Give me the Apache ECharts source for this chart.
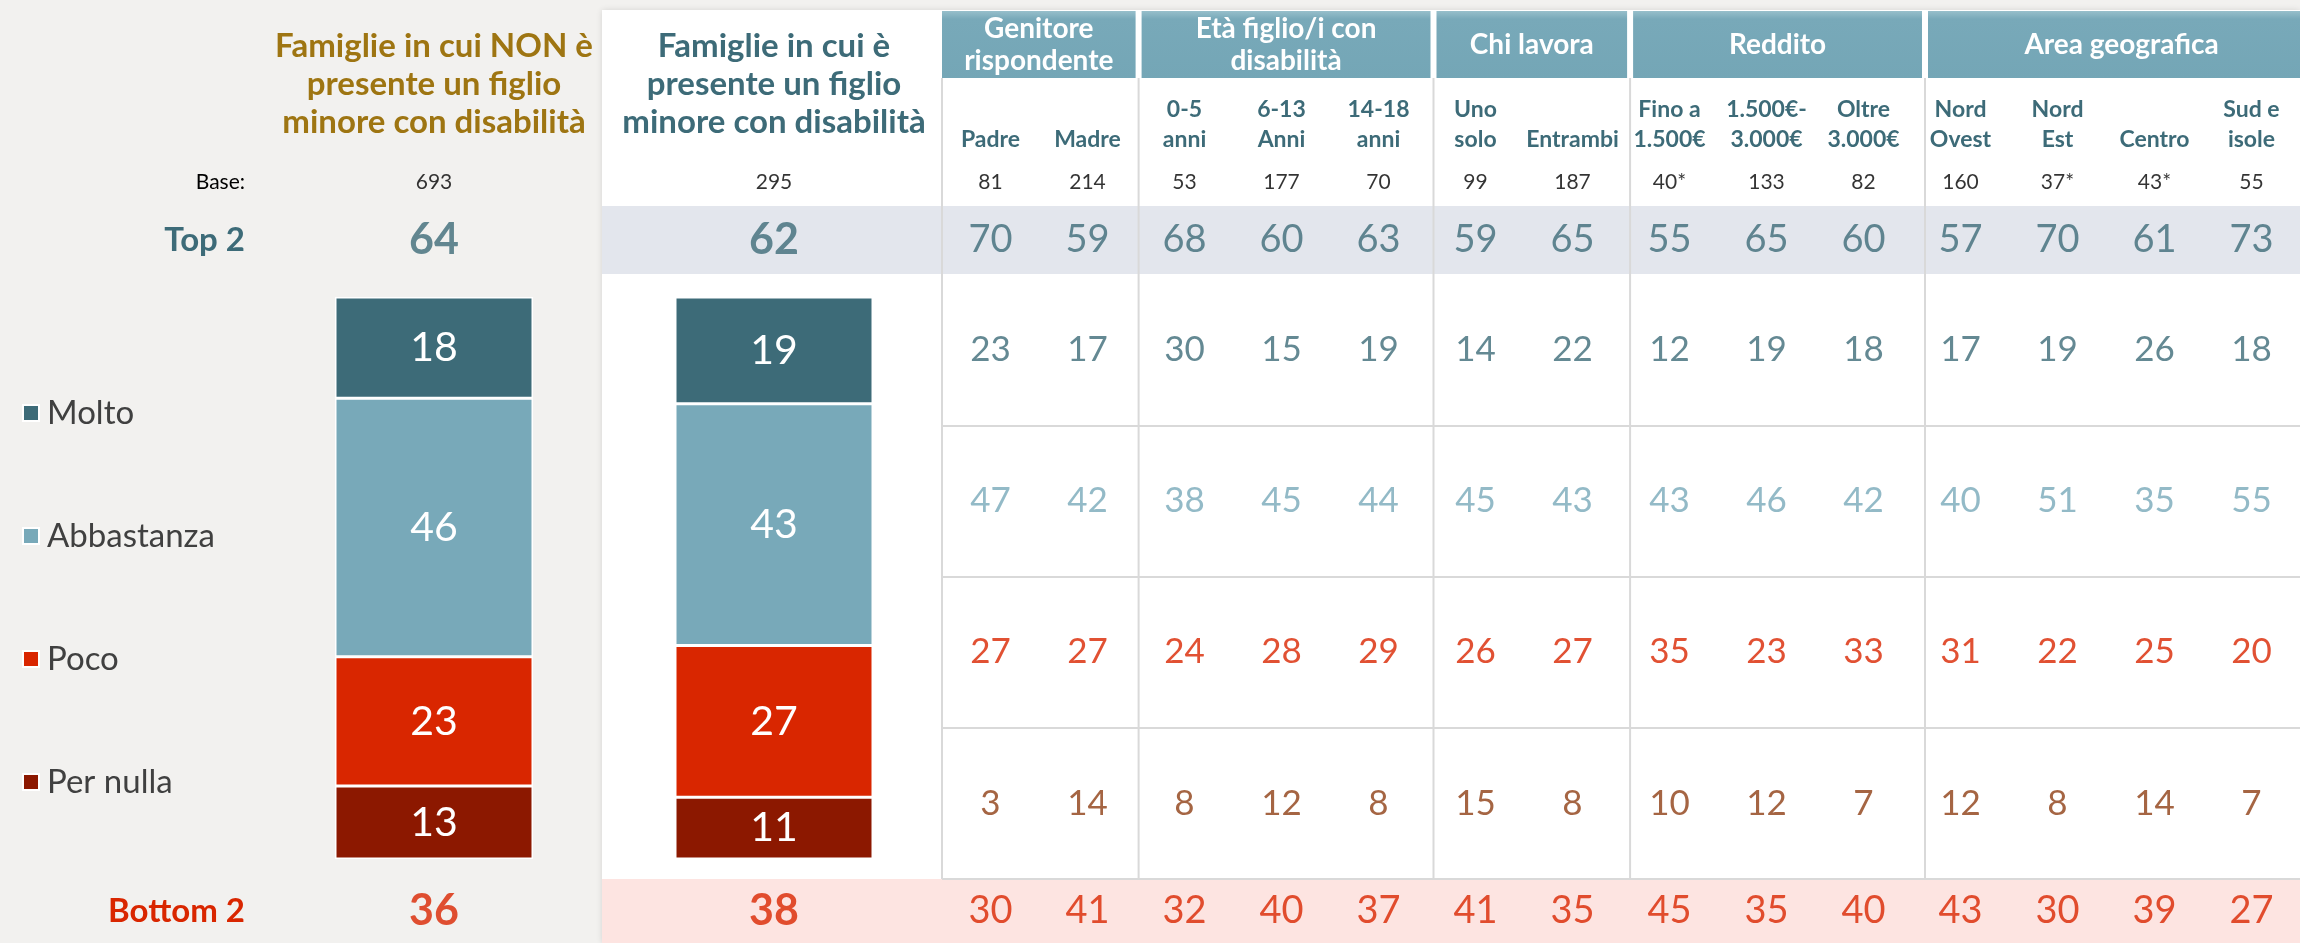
<!DOCTYPE html>
<html>
<head>
<meta charset="utf-8">
<script src="https://cdn.jsdelivr.net/npm/echarts@6/dist/echarts.min.js"></script>
<style>
  html, body { margin: 0; padding: 0; background: #f2f1ef; }
  #chart { width: 2300px; height: 943px; }
</style>
</head>
<body>
<div id="chart"></div>
<script>
// left panel: the two family types
const families = [
  'Famiglie in cui NON è\npresente un figlio\nminore con disabilità',
  'Famiglie in cui è\npresente un figlio\nminore con disabilità'
]
const baseFam = [693, 295]
const top2Fam = [64, 62]
const bottom2Fam = [36, 38]
const levels = ['Molto', 'Abbastanza', 'Poco', 'Per nulla']
const moltoFam = [18, 19]
const abbastanzaFam = [46, 43]
const pocoFam = [23, 27]
const perNullaFam = [13, 11]

// table: sub groups of the families with a disabled child
const groups = ['Genitore\nrispondente', 'Età figlio/i con\ndisabilità', 'Chi lavora', 'Reddito', 'Area geografica']
const groupSizes = [2, 3, 2, 3, 4]
const subgroups = ['Padre', 'Madre', '0-5\nanni', '6-13\nAnni', '14-18\nanni', 'Uno\nsolo', 'Entrambi',
  'Fino a\n1.500€', '1.500€-\n3.000€', 'Oltre\n3.000€', 'Nord\nOvest', 'Nord\nEst', 'Centro', 'Sud e\nisole']
const baseSub = ['81', '214', '53', '177', '70', '99', '187', '40*', '133', '82', '160', '37*', '43*', '55']
const top2Sub = [70, 59, 68, 60, 63, 59, 65, 55, 65, 60, 57, 70, 61, 73]
const moltoSub = [23, 17, 30, 15, 19, 14, 22, 12, 19, 18, 17, 19, 26, 18]
const abbastanzaSub = [47, 42, 38, 45, 44, 45, 43, 43, 46, 42, 40, 51, 35, 55]
const pocoSub = [27, 27, 24, 28, 29, 26, 27, 35, 23, 33, 31, 22, 25, 20]
const perNullaSub = [3, 14, 8, 12, 8, 15, 8, 10, 12, 7, 12, 8, 14, 7]
const bottom2Sub = [30, 41, 32, 40, 37, 41, 35, 45, 35, 40, 43, 30, 39, 27]

const FONT = 'Lato, "Noto Sans", sans-serif'
const TEAL = '#3d6b78'
const LIGHT = '#78a9b9'
const RED = '#d92600'
const DARK_RED = '#8c1800'
const BROWN = '#8e3f14'
const GOLD = '#9e7512'
const LINE = '#d9d9d9'

const FAM_LEFT = 264
const FAM_W = 680
const TAB_LEFT = 942
const COL_W = 98.3
const TAB_W = COL_W * subgroups.length

let chart = echarts.init(document.getElementById('chart'))

function hiddenCat(data, grid) {
  return { type: 'category', data: data, gridIndex: grid, show: false }
}

function textSeries(name, grid, values, color, size, weight) {
  return {
    name: name,
    type: 'scatter',
    xAxisIndex: grid,
    yAxisIndex: grid,
    symbolSize: 0,
    silent: true,
    data: values.map((v, i) => ({ value: [i, 0], name: String(v) })),
    label: {
      show: true, position: 'inside', formatter: '{b}',
      color: color, fontSize: size, fontWeight: weight, fontFamily: FONT
    }
  }
}

function rowSeries(name, values, row, color) {
  return {
    name: name + ' ',
    type: 'scatter',
    xAxisIndex: 6,
    yAxisIndex: 6,
    symbolSize: 0,
    silent: true,
    data: values.map((v, i) => ({ value: [i, row], name: String(v) })),
    label: {
      show: true, position: 'inside', formatter: '{b}',
      color: color, fontSize: 35, fontWeight: 'normal', fontFamily: FONT
    }
  }
}

function barSeries(name, values, color) {
  return {
    name: name,
    type: 'bar',
    stack: 'tot',
    xAxisIndex: 2,
    yAxisIndex: 2,
    barWidth: 198,
    data: values,
    itemStyle: { color: color, borderColor: '#fff', borderWidth: 1.5 },
    label: {
      show: true, position: 'inside', color: '#fff',
      fontSize: 41, fontWeight: 'normal', fontFamily: FONT
    }
  }
}

// header boxes and group separators
let graphics = [
  { type: 'rect', z: -10, shape: { x: 602, y: 10, width: 1698, height: 933 },
    style: { fill: '#fff', shadowBlur: 6, shadowColor: 'rgba(0,0,0,0.12)' } },
  { type: 'rect', z: -9, shape: { x: 602, y: 206, width: 1698, height: 68 }, style: { fill: '#e3e6ed' } },
  { type: 'rect', z: -9, shape: { x: 602, y: 879, width: 1698, height: 64 }, style: { fill: '#fde4e1' } }
]
let start = 0
groups.forEach((g, k) => {
  let x0 = TAB_LEFT + COL_W * start + (k === 0 ? 0 : 3)
  let x1 = TAB_LEFT + COL_W * (start + groupSizes[k]) - 3
  graphics.push({
    type: 'line', z: -8,
    shape: { x1: TAB_LEFT + COL_W * start, y1: 78, x2: TAB_LEFT + COL_W * start, y2: 879 },
    style: { stroke: LINE, lineWidth: 2 }
  })
  graphics.push({
    type: 'rect', z: -7,
    shape: { x: x0, y: 11, width: x1 - x0, height: 67 },
    style: {
      fill: new echarts.graphic.LinearGradient(0, 0, 0, 1, [
        { offset: 0, color: '#97bfcb' }, { offset: 0.12, color: '#78a9b9' }, { offset: 1, color: '#74a6b6' }
      ])
    }
  })
  graphics.push({
    type: 'text', z: 10,
    style: {
      x: (x0 + x1) / 2, y: 45, text: g, align: 'center', verticalAlign: 'middle',
      fill: '#fff', fontSize: 28, fontWeight: 'bold', lineHeight: 32, fontFamily: FONT
    }
  })
  start += groupSizes[k]
})

let famGrid = (top, height) => ({ left: FAM_LEFT, width: FAM_W, top: top, height: height })
let tabGrid = (top, height) => ({ left: TAB_LEFT, width: TAB_W, top: top, height: height })

chart.setOption({
  backgroundColor: '#f2f1ef',
  animation: false,
  textStyle: { fontFamily: FONT },
  graphic: graphics,
  legend: {
    orient: 'vertical',
    left: 17,
    top: 391,
    data: levels,
    icon: 'rect',
    itemWidth: 16,
    itemHeight: 16,
    itemGap: 89,
    selectedMode: false,
    textStyle: { color: '#404040', fontSize: 33, lineHeight: 34, fontFamily: FONT, padding: [0, 0, 0, 3] }
  },
  grid: [
    famGrid(160, 44), famGrid(206, 68), famGrid(297, 562), famGrid(879, 64),
    tabGrid(160, 44), tabGrid(206, 68), tabGrid(274, 605), tabGrid(879, 64)
  ],
  xAxis: [
    {
      type: 'category', data: families, gridIndex: 0, position: 'top',
      axisLine: { show: false }, axisTick: { show: false },
      axisLabel: {
        interval: 0, margin: 19, fontSize: 33, fontWeight: 'bold', lineHeight: 38, fontFamily: FONT,
        color: (v, i) => (i === 0 ? GOLD : TEAL)
      }
    },
    hiddenCat(families, 1), hiddenCat(families, 2), hiddenCat(families, 3),
    {
      type: 'category', data: subgroups, gridIndex: 4, position: 'top',
      axisLine: { show: false }, axisTick: { show: false },
      axisLabel: {
        interval: 0, margin: 5, fontSize: 23, fontWeight: 'bold', lineHeight: 30,
        color: TEAL, fontFamily: FONT
      }
    },
    hiddenCat(subgroups, 5), hiddenCat(subgroups, 6), hiddenCat(subgroups, 7)
  ],
  yAxis: [
    {
      type: 'category', data: ['Base:'], gridIndex: 0,
      axisLine: { show: false }, axisTick: { show: false },
      axisLabel: { margin: 19, color: '#000', fontSize: 21, fontFamily: FONT }
    },
    {
      type: 'category', data: ['Top 2'], gridIndex: 1,
      axisLine: { show: false }, axisTick: { show: false },
      axisLabel: { margin: 19, color: TEAL, fontSize: 33, fontWeight: 'bold', fontFamily: FONT }
    },
    { type: 'value', min: 0, max: 100, gridIndex: 2, show: false },
    {
      type: 'category', data: ['Bottom 2'], gridIndex: 3,
      axisLine: { show: false }, axisTick: { show: false },
      axisLabel: { margin: 19, color: RED, fontSize: 33, fontWeight: 'bold', fontFamily: FONT }
    },
    hiddenCat(['Base'], 4),
    hiddenCat(['Top 2'], 5),
    {
      type: 'category', data: levels, gridIndex: 6, inverse: true,
      axisLine: { show: false }, axisTick: { show: false }, axisLabel: { show: false },
      splitLine: { show: true, interval: (i) => i > 0, lineStyle: { color: LINE, width: 2 } }
    },
    hiddenCat(['Bottom 2'], 7)
  ],
  series: [
    barSeries('Per nulla', perNullaFam, DARK_RED),
    barSeries('Poco', pocoFam, RED),
    barSeries('Abbastanza', abbastanzaFam, LIGHT),
    barSeries('Molto', moltoFam, TEAL),
    textSeries('baseFam', 0, baseFam, '#000', 21, 'normal'),
    textSeries('top2Fam', 1, top2Fam, TEAL, 43, 'bold'),
    textSeries('bottom2Fam', 3, bottom2Fam, RED, 43, 'bold'),
    textSeries('baseSub', 4, baseSub, '#000', 21, 'normal'),
    textSeries('top2Sub', 5, top2Sub, TEAL, 38, 'normal'),
    rowSeries('Molto', moltoSub, 0, TEAL),
    rowSeries('Abbastanza', abbastanzaSub, 1, LIGHT),
    rowSeries('Poco', pocoSub, 2, RED),
    rowSeries('Per nulla', perNullaSub, 3, BROWN),
    textSeries('bottom2Sub', 7, bottom2Sub, RED, 38, 'normal')
  ]
})
</script>
</body>
</html>
